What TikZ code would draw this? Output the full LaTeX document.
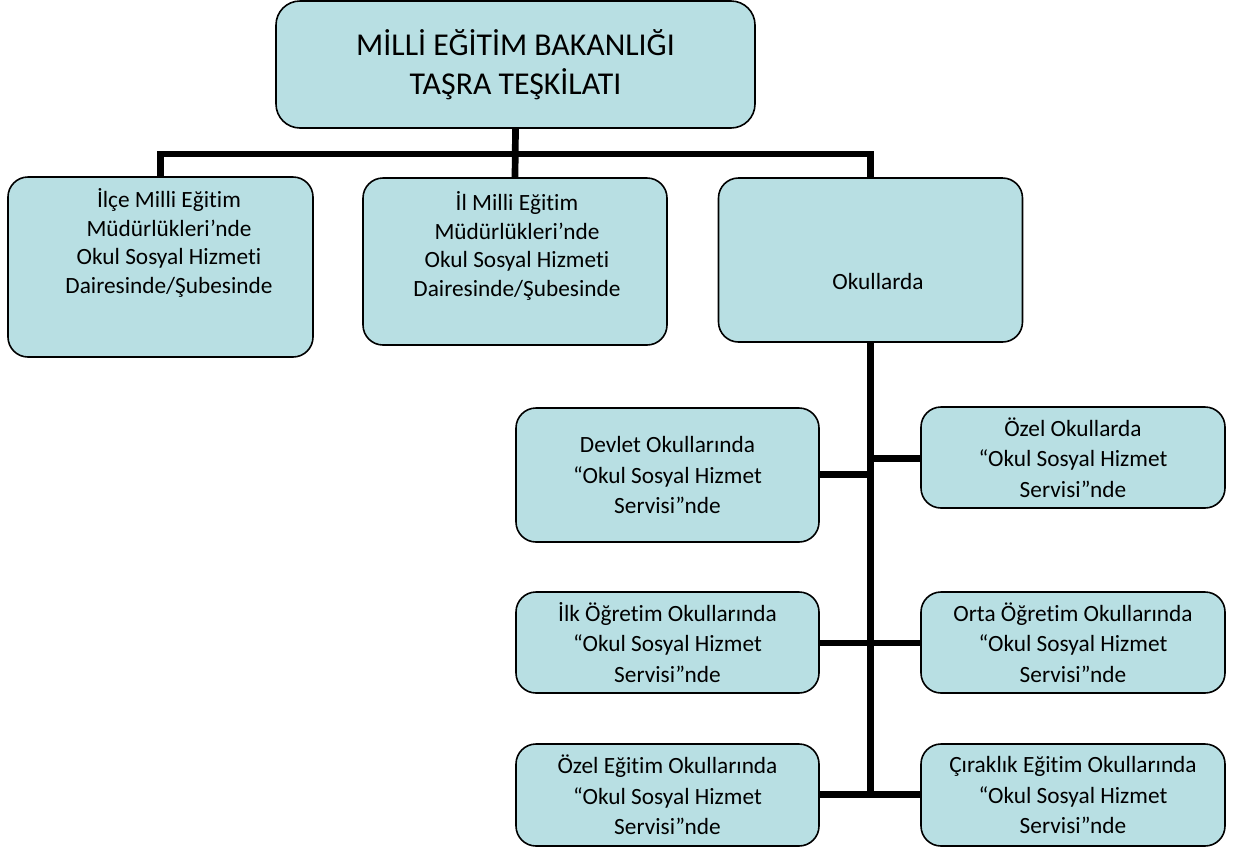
\documentclass[tikz,border=0pt]{standalone}
\usepackage{fontspec}
\setmainfont{Carlito}[Ligatures={NoCommon}]
\definecolor{boxfill}{HTML}{B8DFE3}
\begin{document}
\begin{tikzpicture}[x=1pt,y=-1pt,
  box/.style={draw=black, line width=1.6pt, fill=boxfill, rounded corners=20pt, inner sep=0pt, align=center, font=\fontsize{23.3}{30.5}\selectfont},
  txt/.style={align=center, inner sep=0pt, font=\fontsize{23.3}{28.5}\selectfont},
  conn/.style={line width=6.7pt, line join=miter}]
\useasboundingbox (0,0) rectangle (1241,847);
% boxes
\node[box, minimum width=479pt, minimum height=127pt, rounded corners=24pt, font=\fontsize{31.8}{38.5}\selectfont] (top) at (515.5,64.5) {MİLLİ EĞİTİM BAKANLIĞI\\TAŞRA TEŞKİLATI};
\node[box, minimum width=305pt, minimum height=180pt] (b1) at (160.5,267) {};
\node[box, minimum width=304pt, minimum height=167pt] (b2) at (515,261.5) {};
\node[box, minimum width=304pt, minimum height=164pt] (b3) at (870.5,260) {};
\node[txt] (t1) at (169,243) {İlçe Milli Eğitim\\Müdürlükleri’nde\\Okul Sosyal Hizmeti\\Dairesinde/Şubesinde};
\node[txt] (t2) at (517,246) {İl Milli Eğitim\\Müdürlükleri’nde\\Okul Sosyal Hizmeti\\Dairesinde/Şubesinde};
\node[txt] (t3) at (878,281) {Okullarda};
\node[box, minimum width=303pt, minimum height=134pt] (devlet) at (667.5,475) {Devlet Okullarında\\“Okul Sosyal Hizmet\\Servisi”nde};
\node[box, minimum width=304pt, minimum height=101pt] (ozel) at (1073,457.5) {Özel Okullarda\\“Okul Sosyal Hizmet\\Servisi”nde};
\node[box, minimum width=303pt, minimum height=101pt] (ilk) at (667.5,642.5) {İlk Öğretim Okullarında\\“Okul Sosyal Hizmet\\Servisi”nde};
\node[box, minimum width=304pt, minimum height=101pt] (orta) at (1073,642.5) {Orta Öğretim Okullarında\\“Okul Sosyal Hizmet\\Servisi”nde};
\node[box, minimum width=303pt, minimum height=102pt] (oegitim) at (667.5,795) {Özel Eğitim Okullarında\\“Okul Sosyal Hizmet\\Servisi”nde};
\node[box, minimum width=304pt, minimum height=102pt] (cirak) at (1073,795) {Çıraklık Eğitim Okullarında\\“Okul Sosyal Hizmet\\Servisi”nde};
% connectors
\coordinate (bar) at (515,154);
\coordinate (tend) at (870.5,797.8);
\coordinate (j1) at (870.5,474.3);
\coordinate (j2) at (870.5,458.3);
\coordinate (j3) at (870.5,643);
\coordinate (j4) at (870.5,794.5);
\draw[conn] (top.south) -- (b2.north);
\draw[conn] (b1.north) |- (bar) -| (b3.north);
\draw[conn] (b3.south) -- (tend);
\draw[conn] (devlet.east |- j1) -- (j1);
\draw[conn] (j2) -- (ozel.west |- j2);
\draw[conn] (ilk.east |- j3) -- (orta.west |- j3);
\draw[conn] (oegitim.east |- j4) -- (cirak.west |- j4);
\end{tikzpicture}
\end{document}
